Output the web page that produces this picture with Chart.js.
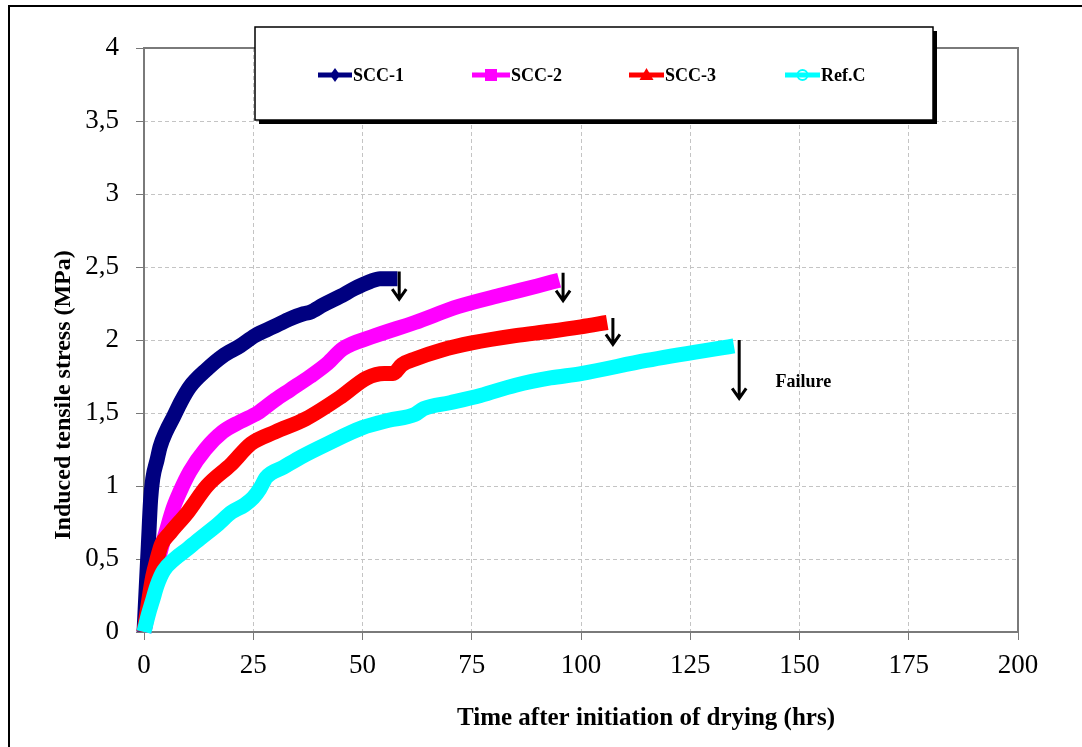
<!DOCTYPE html>
<html>
<head>
<meta charset="utf-8">
<title>Induced tensile stress</title>
<script src="https://cdn.jsdelivr.net/npm/chart.js@4.4.0/dist/chart.umd.min.js"></script>
<style>
  html, body { margin: 0; padding: 0; background: #fff; overflow: hidden; }
  #wrap { width: 1082px; height: 747px; position: relative; }
</style>
</head>
<body>
<div id="wrap"><canvas id="stressChart" width="1082" height="747"></canvas></div>
<script>
// series read per mix: time (hrs) and induced tensile stress (MPa)
const seriesNames = ['SCC-1', 'SCC-2', 'SCC-3', 'Ref.C'];
const seriesColors = ['#000080', '#ff00ff', '#ff0000', '#00ffff'];
const seriesMarkers = ['diamond', 'square', 'triangle', 'circle'];

const scc1Time   = [0, 0.5, 1, 1.5, 2, 3, 3.7, 5, 6.7, 8.5, 10.5, 14.4, 18, 22, 25.4, 29.6, 33, 36.5, 38, 41, 45, 48, 51.7, 54, 57, 58];
const scc1Stress = [0, 0.3, 0.6, 0.9, 1.05, 1.18, 1.27, 1.37, 1.47, 1.58, 1.68, 1.8, 1.89, 1.96, 2.03, 2.09, 2.14, 2.18, 2.19, 2.24, 2.3, 2.35, 2.4, 2.42, 2.42, 2.42];

const scc2Time   = [0, 1, 2, 3, 4, 5, 6.7, 8.2, 10.5, 14, 18, 22, 26, 30, 33.5, 38, 42, 45.5, 52, 62, 72, 82, 90, 95];
const scc2Stress = [0, 0.15, 0.3, 0.45, 0.58, 0.68, 0.85, 0.96, 1.1, 1.25, 1.37, 1.44, 1.5, 1.59, 1.66, 1.75, 1.84, 1.94, 2.02, 2.12, 2.23, 2.31, 2.37, 2.41];

const scc3Time   = [0, 1, 2, 3, 4, 6, 10, 14.4, 20, 24.5, 30, 37, 45, 51, 55, 57, 59, 62, 68, 75, 85, 93, 100, 106];
const scc3Stress = [0, 0.2, 0.38, 0.5, 0.6, 0.68, 0.82, 1.0, 1.15, 1.29, 1.37, 1.46, 1.61, 1.74, 1.77, 1.77, 1.83, 1.87, 1.93, 1.98, 2.03, 2.06, 2.09, 2.12];

const refTime   = [0, 1, 2, 3, 4.5, 7, 10, 12, 17, 20, 23, 25, 26.5, 28, 32, 36, 42, 50, 56, 62, 64, 70, 77, 85, 93, 100, 115, 135];
const refStress = [0, 0.12, 0.22, 0.32, 0.42, 0.5, 0.57, 0.62, 0.74, 0.82, 0.87, 0.92, 0.98, 1.06, 1.13, 1.2, 1.29, 1.4, 1.45, 1.49, 1.53, 1.57, 1.62, 1.69, 1.74, 1.77, 1.86, 1.96];

const xTickLabels = ['0', '25', '50', '75', '100', '125', '150', '175', '200'];
const yTickLabels = ['0', '0,5', '1', '1,5', '2', '2,5', '3', '3,5', '4'];

// failure arrows: time, top and bottom stress of each arrow
const failureTime   = [58.4, 95.9, 107.3, 136.2];
const failureTop    = [2.47, 2.46, 2.15, 2.0];
const failureBottom = [2.28, 2.27, 1.97, 1.6];
const failureLabel  = 'Failure';

const serif = "'Liberation Serif', 'Times New Roman', serif";

function toPoints(times, values) {
  return times.map((t, i) => ({ x: t, y: values[i] }));
}

const seriesData = [
  toPoints(scc1Time, scc1Stress),
  toPoints(scc2Time, scc2Stress),
  toPoints(scc3Time, scc3Stress),
  toPoints(refTime, refStress)
];

function drawMarker(ctx, kind, x, y, color) {
  ctx.save();
  ctx.fillStyle = color;
  ctx.strokeStyle = color;
  ctx.beginPath();
  if (kind === 'diamond') {
    ctx.moveTo(x, y - 7); ctx.lineTo(x + 5, y); ctx.lineTo(x, y + 7); ctx.lineTo(x - 5, y);
    ctx.closePath(); ctx.fill();
  } else if (kind === 'square') {
    ctx.rect(x - 6, y - 6, 12, 12); ctx.fill();
  } else if (kind === 'triangle') {
    ctx.moveTo(x, y - 7); ctx.lineTo(x + 7, y + 5); ctx.lineTo(x - 7, y + 5);
    ctx.closePath(); ctx.fill();
  } else {
    ctx.lineWidth = 2;
    ctx.arc(x, y, 5, 0, Math.PI * 2); ctx.stroke();
  }
  ctx.restore();
}

const decorPlugin = {
  id: 'decor',
  beforeDraw(chart) {
    const ctx = chart.ctx;
    ctx.save();
    ctx.fillStyle = '#fff';
    ctx.fillRect(0, 0, chart.width, chart.height);
    ctx.strokeStyle = '#000';
    ctx.lineWidth = 2;
    ctx.strokeRect(9, 6, 2000, 2000);
    ctx.restore();
  },
  beforeDatasetsDraw(chart) {
    const { ctx, chartArea: a } = chart;
    ctx.save();
    ctx.strokeStyle = '#7a7a7a';
    ctx.lineWidth = 2;
    ctx.strokeRect(a.left, a.top, a.right - a.left, a.bottom - a.top);
    ctx.restore();
  },
  afterDatasetsDraw(chart) {
    const { ctx, scales: { x, y } } = chart;
    ctx.save();
    ctx.strokeStyle = '#000';
    ctx.lineWidth = 3;
    ctx.lineCap = 'butt';
    failureTime.forEach((t, i) => {
      const px = x.getPixelForValue(t);
      const top = y.getPixelForValue(failureTop[i]);
      const bot = y.getPixelForValue(failureBottom[i]);
      ctx.beginPath();
      ctx.moveTo(px, top); ctx.lineTo(px, bot);
      ctx.moveTo(px - 7, bot - 10); ctx.lineTo(px, bot); ctx.lineTo(px + 7, bot - 10);
      ctx.stroke();
    });
    ctx.fillStyle = '#000';
    ctx.font = 'bold 18px ' + serif;
    ctx.textBaseline = 'middle';
    ctx.fillText(failureLabel, x.getPixelForValue(144.5), y.getPixelForValue(1.71));
    ctx.restore();
  },
  afterDraw(chart) {
    const ctx = chart.ctx;
    ctx.save();
    // legend box with drop shadow
    ctx.fillStyle = '#000';
    ctx.fillRect(259, 31, 678, 93);
    ctx.fillStyle = '#fff';
    ctx.fillRect(255, 27, 678, 93);
    ctx.strokeStyle = '#000';
    ctx.lineWidth = 1.5;
    ctx.strokeRect(255, 27, 678, 93);

    const lineStart = [318, 472, 629, 785];
    const lineEnd = [352, 510, 664, 820];
    ctx.font = 'bold 18px ' + serif;
    ctx.textBaseline = 'middle';
    seriesNames.forEach((name, i) => {
      ctx.strokeStyle = seriesColors[i];
      ctx.lineWidth = 5;
      ctx.beginPath();
      ctx.moveTo(lineStart[i], 75); ctx.lineTo(lineEnd[i], 75);
      ctx.stroke();
      drawMarker(ctx, seriesMarkers[i], (lineStart[i] + lineEnd[i]) / 2, 75, seriesColors[i]);
      ctx.fillStyle = '#000';
      ctx.fillText(name, lineEnd[i] + 1, 76);
    });

    // axis titles
    ctx.fillStyle = '#000';
    ctx.font = 'bold 25px ' + serif;
    ctx.textAlign = 'center';
    ctx.fillText('Time after initiation of drying (hrs)', 646, 719);
    ctx.translate(64, 395);
    ctx.rotate(-Math.PI / 2);
    ctx.font = 'bold 24px ' + serif;
    ctx.fillText('Induced tensile stress (MPa)', 0, 0);
    ctx.restore();
  }
};

function gridColor(c) {
  const n = c.chart.scales[c.scale.id].ticks.length;
  return (c.index === 0 || c.index === n - 1) ? 'rgba(0,0,0,0)' : '#c4c4c4';
}

new Chart(document.getElementById('stressChart'), {
  type: 'line',
  data: {
    datasets: seriesData.map((pts, i) => ({
      label: seriesNames[i],
      data: pts,
      borderColor: seriesColors[i],
      backgroundColor: seriesColors[i],
      borderWidth: 15,
      pointRadius: 0,
      borderJoinStyle: 'round',
      cubicInterpolationMode: 'monotone',
      clip: 10,
      order: 4 - i
    }))
  },
  options: {
    responsive: false,
    animation: false,
    devicePixelRatio: 1,
    layout: { padding: { left: 10, top: 48, right: 64, bottom: 0 } },
    plugins: { legend: { display: false }, tooltip: { enabled: false } },
    scales: {
      x: {
        type: 'linear',
        min: 0, max: 200,
        afterFit: s => { s.height = 115; },
        ticks: {
          stepSize: 25,
          padding: 10,
          color: '#000',
          font: { family: serif, size: 27 },
          callback: (v, i) => xTickLabels[i]
        },
        grid: { color: gridColor, tickColor: '#777', tickLength: 8, lineWidth: 1 },
        border: { display: false, dash: [4, 3] }
      },
      y: {
        min: 0, max: 4,
        afterFit: s => { s.width = 134; },
        ticks: {
          stepSize: 0.5,
          padding: 17,
          color: '#000',
          font: { family: serif, size: 27 },
          callback: (v, i) => yTickLabels[i]
        },
        grid: { color: gridColor, tickColor: '#777', tickLength: 8, lineWidth: 1 },
        border: { display: false, dash: [4, 3] }
      }
    }
  },
  plugins: [decorPlugin]
});
</script>
</body>
</html>
